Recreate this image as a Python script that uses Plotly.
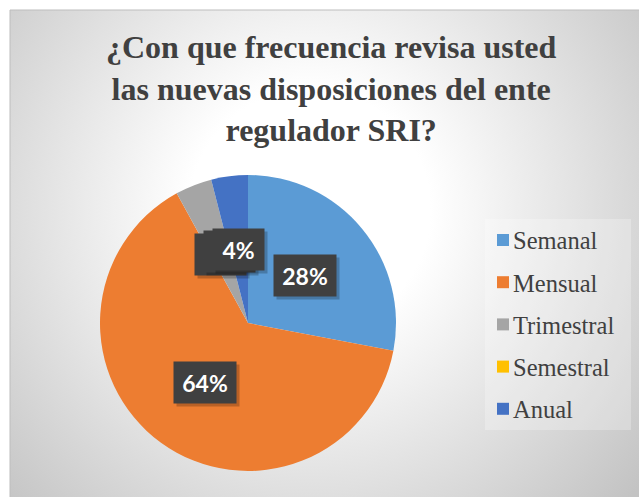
import base64
import numpy as np
import plotly.graph_objects as go

# ---- data ----
categories = ["Semanal", "Mensual", "Trimestral", "Semestral", "Anual"]
values = [28, 64, 4, 0, 4]
colors = ["#5B9BD5", "#ED7D31", "#A5A5A5", "#FFC000", "#4472C4"]
title_text = "<b>¿Con que frecuencia revisa usted<br>las nuevas disposiciones del ente<br>regulador SRI?</b>"

W, H = 639, 497

def px_x(x):
    return x / W

def px_y(y):
    return 1 - y / H

# pie geometry (pixels)
cx, cy, R = 248, 323, 148

# background gradient (chart area starts at 10,10)
AW, AH = W - 10, H - 10
svg = f'''<svg xmlns="http://www.w3.org/2000/svg" width="{AW}" height="{AH}">
<defs><radialGradient id="g" gradientUnits="userSpaceOnUse" cx="300" cy="200" r="430">
<stop offset="0" stop-color="#ffffff"/><stop offset="0.28" stop-color="#ffffff"/>
<stop offset="1" stop-color="#c3c3c3"/></radialGradient></defs>
<rect width="{AW}" height="{AH}" fill="url(#g)"/></svg>'''
bg_uri = "data:image/svg+xml;base64," + base64.b64encode(svg.encode()).decode()

fig = go.Figure()
fig.add_trace(go.Pie(
    labels=categories, values=values, sort=False, direction="clockwise", rotation=0,
    marker=dict(colors=colors, line=dict(width=0)),
    textinfo="none", hoverinfo="label+percent", showlegend=False,
    domain=dict(x=[px_x(cx - R), px_x(cx + R)], y=[px_y(cy + R), px_y(cy - R)]),
))

annotations = []
shapes = []

# title
annotations.append(dict(
    x=px_x(332), y=px_y(27), xref="paper", yref="paper", xanchor="center", yanchor="top",
    text=title_text, showarrow=False, align="center",
    font=dict(family="Liberation Serif", size=32, color="#404040"),
))

# data labels computed from values
total = sum(values)
cum = np.cumsum([0] + values)
for i, (cat, v) in enumerate(zip(categories, values)):
    frac_mid = (cum[i] + v / 2) / total
    ang = 2 * np.pi * frac_mid
    lx = cx + 0.5 * R * np.sin(ang)
    ly = cy - 0.5 * R * np.cos(ang)
    pct = f"{round(100 * v / total)}%"
    w = 48 if len(pct) > 2 else 37
    # shadow
    annotations.append(dict(
        x=px_x(lx), y=px_y(ly), xref="paper", yref="paper", text=pct, showarrow=False,
        xanchor="center", yanchor="middle",
        font=dict(family="Lato", size=23, color="rgba(0,0,0,0)"),
        bgcolor="rgba(0,0,0,0.22)", width=w, height=27, borderpad=7,
        xshift=3, yshift=-3,
    ))
    annotations.append(dict(
        x=px_x(lx), y=px_y(ly), xref="paper", yref="paper", text=f"<b>{pct}</b>", showarrow=False,
        xanchor="center", yanchor="middle",
        font=dict(family="Lato", size=23, color="white"),
        bgcolor="#404040", width=w, height=27, borderpad=7,
    ))

# legend panel
shapes.append(dict(type="rect", xref="paper", yref="paper",
                   x0=px_x(485), x1=px_x(631), y0=px_y(430), y1=px_y(219),
                   fillcolor="rgba(255,255,255,0.25)", line=dict(width=0), layer="below"))
# legend entries
for i, (cat, col) in enumerate(zip(categories, colors)):
    yc = 240 + 42.2 * i
    shapes.append(dict(type="rect", xref="paper", yref="paper",
                       x0=px_x(497), x1=px_x(509), y0=px_y(yc + 6), y1=px_y(yc - 6),
                       fillcolor=col, line=dict(width=0)))
    annotations.append(dict(
        x=px_x(511), y=px_y(yc + 1), xref="paper", yref="paper", xanchor="left", yanchor="middle",
        text=cat, showarrow=False,
        font=dict(family="Liberation Serif", size=24.5, color="#404040"),
    ))

# chart border
shapes.append(dict(type="rect", xref="paper", yref="paper",
                   x0=px_x(10), x1=px_x(W + 2), y0=px_y(H + 2), y1=px_y(10),
                   line=dict(color="#bdbdbd", width=1), fillcolor="rgba(0,0,0,0)", layer="below"))

fig.update_layout(
    width=W, height=H,
    margin=dict(l=0, r=0, t=0, b=0),
    paper_bgcolor="white", plot_bgcolor="white",
    images=[dict(source=bg_uri, xref="paper", yref="paper", x=px_x(10), y=px_y(10),
                 sizex=AW / W, sizey=AH / H, xanchor="left", yanchor="top",
                 sizing="stretch", layer="below")],
    shapes=shapes, annotations=annotations,
)

fig.write_html("out.html", config={"displayModeBar": False},
               post_script="document.body.style.margin='0';document.body.style.overflow='hidden';")
